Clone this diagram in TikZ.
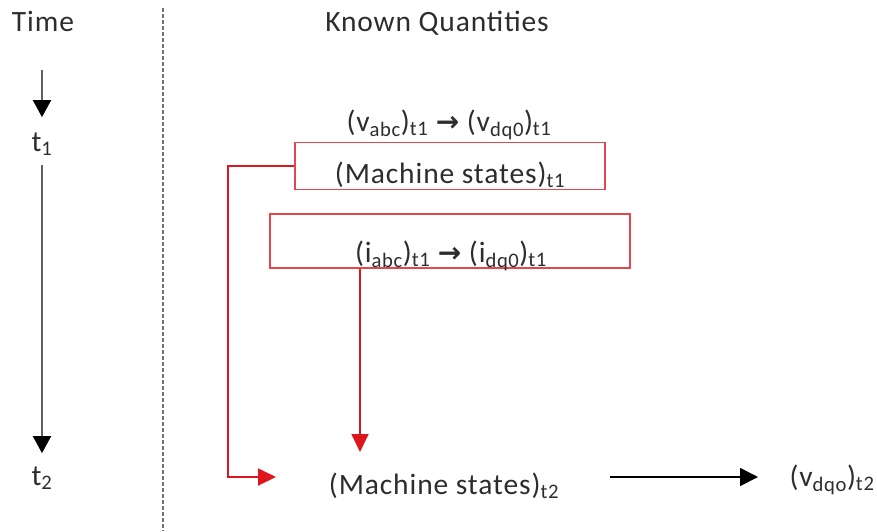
\documentclass[tikz,border=0pt]{standalone}
\usepackage{fontspec}
\setmainfont{Carlito}[LetterSpace=3]
\newfontfamily\arrowfont{DejaVu Sans Bold}
\usetikzlibrary{arrows.meta}

\definecolor{boxred}{RGB}{228,70,78}
\definecolor{linered}{RGB}{222,22,30}
\definecolor{textgray}{RGB}{45,45,45}
\definecolor{shaftgray}{RGB}{95,95,95}
\definecolor{dividergray}{RGB}{115,115,115}

\tikzset{
  lbl/.style={inner sep=0pt, anchor=base, text=textgray,
    font=\fontsize{29.5}{35}\selectfont},
  statebox/.style={draw=boxred, line width=1.8pt, inner sep=0pt},
  redflow/.style={draw=linered, line width=1.8pt,
    -{Triangle[length=18pt,width=17pt]}},
  timeflow/.style={draw=shaftgray, line width=1.8pt,
    -{Triangle[length=17pt,width=18pt,color=black]}},
  blackflow/.style={draw=black, line width=1.8pt,
    -{Triangle[length=18pt,width=18pt]}},
  divider/.style={draw=dividergray, line width=2.6pt, dash pattern=on 4pt off 2pt}
}

\newcommand{\sub}[1]{\textsubscript{#1}}
\newcommand{\arr}{{\arrowfont\fontsize{28}{32}\selectfont →}}

\begin{document}
\begin{tikzpicture}[x=1pt, y=-1pt]
  \useasboundingbox (0,0) rectangle (877,531);

  % column headings and time-axis divider
  \node[lbl] (time) at (43,31) {Time};
  \node[lbl] (known) at (437,31) {Known Quantities};
  \coordinate (divtop) at (163,8);
  \coordinate (divbot) at (163,531);
  \draw[divider] (divtop) -- (divbot);

  % time axis
  \coordinate (tstart) at (42,70);
  \node[lbl] (t1) at (42,151) {t\sub{1}};
  \node[lbl] (t2) at (42,485) {t\sub{2}};
  \draw[timeflow, shorten >=15pt] (tstart) -- (t1.north);
  \draw[timeflow, shorten <=9pt, shorten >=13pt] (t1.south) -- (t2.north);

  % quantities known at t1
  \node[lbl] (vtrans) at (449,131) {(v\sub{abc})\sub{t1} \arr{} (v\sub{dq0})\sub{t1}};
  \node[statebox, minimum width=310pt, minimum height=47pt] (box1) at (450,166) {};
  \node[lbl] (ms1) at (450,183) {(Machine states)\sub{t1}};
  \node[statebox, minimum width=360pt, minimum height=54pt] (box2) at (450,241) {};
  \node[lbl] (itrans) at (451,262) {(i\sub{abc})\sub{t1} \arr{} (i\sub{dq0})\sub{t1}};

  % quantities at t2
  \node[lbl] (ms2) at (444,494) {(Machine states)\sub{t2}};
  \node[lbl] (vout) at (832,486) {(v\sub{dqo})\sub{t2}};

  % connectors
  \coordinate (bend) at (228,477);
  \coordinate (tipA) at (276,477);
  \coordinate (tipB) at (360,452);
  \draw[redflow] (box1.west) -| (bend) -- (tipA);
  \draw[redflow] (box2.south -| tipB) -- (tipB);
  \coordinate (outA) at (610,477);
  \coordinate (outB) at (758,477);
  \draw[blackflow] (outA) -- (outB);
\end{tikzpicture}
\end{document}
